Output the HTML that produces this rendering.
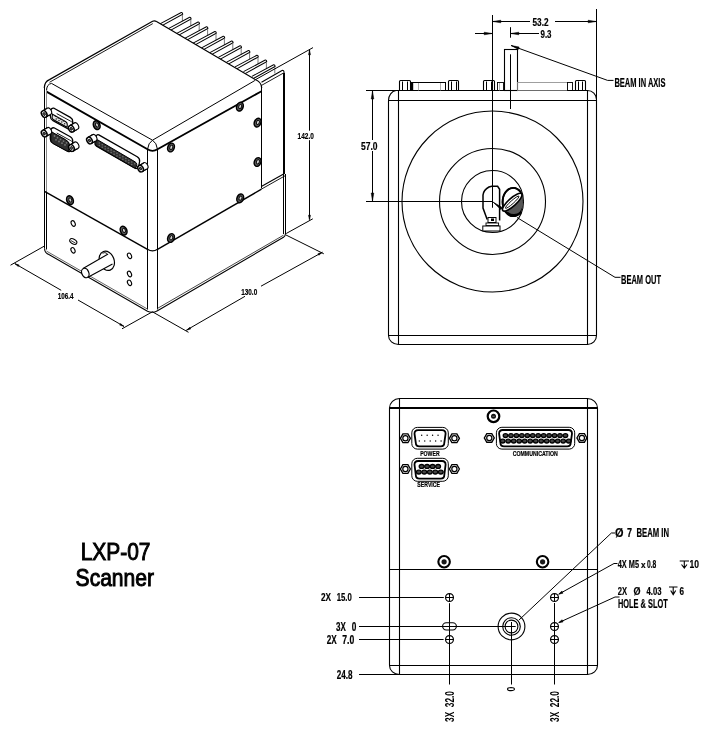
<!DOCTYPE html><html><head><meta charset="utf-8"><title>LXP-07 Scanner</title><style>html,body{margin:0;padding:0;background:#fff;}svg{display:block;will-change:transform;}text{font-family:"Liberation Sans",sans-serif;fill:#000;}</style></head><body>
<svg width="707" height="729" viewBox="0 0 707 729">
<rect width="707" height="729" fill="#fff"/>
<path d="M159.5,24.1 L181.2,12.6 Q182.5,12.3 182.7,14.2 L161.1,26.1" stroke="#000" stroke-width="1.05" fill="none" />
<line x1="182.4" y1="14.8" x2="182.4" y2="21.2" stroke="#666" stroke-width="0.9" />
<path d="M167.9,28.85 L189.6,17.35 Q190.9,17.05 191.1,18.95 L169.5,30.85" stroke="#000" stroke-width="1.05" fill="none" />
<line x1="190.8" y1="19.55" x2="190.8" y2="25.95" stroke="#666" stroke-width="0.9" />
<path d="M176.3,33.6 L198,22.1 Q199.3,21.8 199.5,23.7 L177.9,35.6" stroke="#000" stroke-width="1.05" fill="none" />
<line x1="199.2" y1="24.3" x2="199.2" y2="30.7" stroke="#666" stroke-width="0.9" />
<path d="M184.7,38.35 L206.4,26.85 Q207.7,26.55 207.9,28.45 L186.3,40.35" stroke="#000" stroke-width="1.05" fill="none" />
<line x1="207.6" y1="29.05" x2="207.6" y2="35.45" stroke="#666" stroke-width="0.9" />
<path d="M193.1,43.1 L214.8,31.6 Q216.1,31.3 216.3,33.2 L194.7,45.1" stroke="#000" stroke-width="1.05" fill="none" />
<line x1="216" y1="33.8" x2="216" y2="40.2" stroke="#666" stroke-width="0.9" />
<path d="M201.5,47.85 L223.2,36.35 Q224.5,36.05 224.7,37.95 L203.1,49.85" stroke="#000" stroke-width="1.05" fill="none" />
<line x1="224.4" y1="38.55" x2="224.4" y2="44.95" stroke="#666" stroke-width="0.9" />
<path d="M209.9,52.6 L231.6,41.1 Q232.9,40.8 233.1,42.7 L211.5,54.6" stroke="#000" stroke-width="1.05" fill="none" />
<line x1="232.8" y1="43.3" x2="232.8" y2="49.7" stroke="#666" stroke-width="0.9" />
<path d="M218.3,57.35 L240,45.85 Q241.3,45.55 241.5,47.45 L219.9,59.35" stroke="#000" stroke-width="1.05" fill="none" />
<line x1="241.2" y1="48.05" x2="241.2" y2="54.45" stroke="#666" stroke-width="0.9" />
<path d="M226.7,62.1 L248.4,50.6 Q249.7,50.3 249.9,52.2 L228.3,64.1" stroke="#000" stroke-width="1.05" fill="none" />
<line x1="249.6" y1="52.8" x2="249.6" y2="59.2" stroke="#666" stroke-width="0.9" />
<path d="M235.1,66.85 L256.8,55.35 Q258.1,55.05 258.3,56.95 L236.7,68.85" stroke="#000" stroke-width="1.05" fill="none" />
<line x1="258" y1="57.55" x2="258" y2="63.95" stroke="#666" stroke-width="0.9" />
<path d="M243.5,71.6 L265.2,60.1 Q266.5,59.8 266.7,61.7 L245.1,73.6" stroke="#000" stroke-width="1.05" fill="none" />
<line x1="266.4" y1="62.3" x2="266.4" y2="68.7" stroke="#666" stroke-width="0.9" />
<path d="M251.9,76.35 L273.6,64.85 Q274.9,64.55 275.1,66.45 L253.5,78.35" stroke="#000" stroke-width="1.05" fill="none" />
<line x1="274.8" y1="67.05" x2="274.8" y2="73.45" stroke="#666" stroke-width="0.9" />
<path d="M44.3,88 Q44.5,81.5 49.5,79.6 L152.6,21.3 Q154.5,20.3 156.5,21.6 L254.75,79.3 Q261.7,82 261.7,88" stroke="#000" stroke-width="1.2" fill="#fff" />
<line x1="49.5" y1="82.3" x2="152.8" y2="23.6" stroke="#000" stroke-width="0.9" />
<polyline points="51.5,83.4 152.5,140.2 254.75,80.6" stroke="#000" stroke-width="1" fill="none" />
<path d="M46.5,91 Q46.5,84.2 51.5,83.4" stroke="#000" stroke-width="1" fill="none" />
<path d="M147.5,149.3 Q148.3,142.8 152.5,140.2 Q156.7,142.8 157.5,149.3" stroke="#000" stroke-width="1" fill="none" />
<path d="M46.5,91.6 L147.5,149.3 Q152.5,152.6 157.5,149.3 L261.5,91.2" stroke="#000" stroke-width="1.8" fill="none" />
<line x1="44.5" y1="87" x2="44.5" y2="248.5" stroke="#000" stroke-width="1.0" />
<line x1="46.5" y1="90" x2="46.5" y2="191.5" stroke="#888" stroke-width="1.0" />
<line x1="46.5" y1="191.5" x2="46.5" y2="249.5" stroke="#000" stroke-width="1.0" />
<line x1="147.5" y1="149" x2="147.5" y2="309.5" stroke="#000" stroke-width="1.0" />
<line x1="157.5" y1="149" x2="157.5" y2="309.5" stroke="#000" stroke-width="1.0" />
<line x1="261.5" y1="87.5" x2="261.5" y2="188.5" stroke="#000" stroke-width="1.0" />
<path d="M261.5,82.2 L282,70.5 Q283.9,69.8 284,72.3 V174" stroke="#000" stroke-width="1.1" fill="none" />
<line x1="261.5" y1="85.4" x2="283" y2="73.3" stroke="#000" stroke-width="0.9" />
<line x1="284" y1="73" x2="284" y2="174" stroke="#000" stroke-width="2" />
<line x1="261.3" y1="186.6" x2="284.5" y2="173.6" stroke="#000" stroke-width="1.1" />
<line x1="261.8" y1="188.9" x2="285" y2="175.8" stroke="#000" stroke-width="0.9" />
<line x1="44.5" y1="191.4" x2="147.5" y2="249.3" stroke="#000" stroke-width="1.4" />
<path d="M147.5,249.3 Q152.5,252.6 157.5,249.3" stroke="#000" stroke-width="1.3" fill="none" />
<line x1="157.5" y1="249.3" x2="261.5" y2="189.2" stroke="#000" stroke-width="1.4" />
<line x1="283.5" y1="174" x2="283.5" y2="234" stroke="#000" stroke-width="1.0" />
<line x1="285.5" y1="174" x2="285.5" y2="234" stroke="#000" stroke-width="1.0" />
<path d="M44.5,248.5 Q44.8,253.3 49.3,254.7 L147.5,311.2 Q152.4,313.6 157.5,310.7 L283.5,237.3 Q285.5,236 285.5,233.5" stroke="#000" stroke-width="1.1" fill="none" />
<line x1="46.5" y1="251.1" x2="147.5" y2="309.1" stroke="#555" stroke-width="0.9" />
<line x1="157.5" y1="308.4" x2="283.5" y2="235.2" stroke="#333" stroke-width="0.9" />
<ellipse cx="96.7" cy="125.2" rx="3.2" ry="4.5" transform="rotate(-22 96.7 125.2)" stroke="#000" stroke-width="1.5" fill="#5a5a5a"/>
<ellipse cx="97" cy="125" rx="1.4" ry="2.2" transform="rotate(-22 97 125)" stroke="#000" stroke-width="0.9" fill="#d0d0d0"/>
<ellipse cx="70" cy="200.2" rx="3.2" ry="4.5" transform="rotate(-22 70 200.2)" stroke="#000" stroke-width="1.5" fill="#5a5a5a"/>
<ellipse cx="70.3" cy="200" rx="1.4" ry="2.2" transform="rotate(-22 70.3 200)" stroke="#000" stroke-width="0.9" fill="#d0d0d0"/>
<ellipse cx="123.6" cy="230.6" rx="3.2" ry="4.5" transform="rotate(-22 123.6 230.6)" stroke="#000" stroke-width="1.5" fill="#5a5a5a"/>
<ellipse cx="123.9" cy="230.4" rx="1.4" ry="2.2" transform="rotate(-22 123.9 230.4)" stroke="#000" stroke-width="0.9" fill="#d0d0d0"/>
<ellipse cx="239.9" cy="106.7" rx="3.2" ry="4.5" transform="rotate(22 239.9 106.7)" stroke="#000" stroke-width="1.5" fill="#5a5a5a"/>
<ellipse cx="240.2" cy="106.5" rx="1.4" ry="2.2" transform="rotate(22 240.2 106.5)" stroke="#000" stroke-width="0.9" fill="#d0d0d0"/>
<ellipse cx="257.6" cy="122.6" rx="3.2" ry="4.5" transform="rotate(22 257.6 122.6)" stroke="#000" stroke-width="1.5" fill="#5a5a5a"/>
<ellipse cx="257.9" cy="122.4" rx="1.4" ry="2.2" transform="rotate(22 257.9 122.4)" stroke="#000" stroke-width="0.9" fill="#d0d0d0"/>
<ellipse cx="171" cy="147.5" rx="3.2" ry="4.5" transform="rotate(22 171 147.5)" stroke="#000" stroke-width="1.5" fill="#5a5a5a"/>
<ellipse cx="171.3" cy="147.3" rx="1.4" ry="2.2" transform="rotate(22 171.3 147.3)" stroke="#000" stroke-width="0.9" fill="#d0d0d0"/>
<ellipse cx="257.6" cy="162" rx="3.2" ry="4.5" transform="rotate(22 257.6 162)" stroke="#000" stroke-width="1.5" fill="#5a5a5a"/>
<ellipse cx="257.9" cy="161.8" rx="1.4" ry="2.2" transform="rotate(22 257.9 161.8)" stroke="#000" stroke-width="0.9" fill="#d0d0d0"/>
<ellipse cx="240.2" cy="198.3" rx="3.2" ry="4.5" transform="rotate(22 240.2 198.3)" stroke="#000" stroke-width="1.5" fill="#5a5a5a"/>
<ellipse cx="240.5" cy="198.1" rx="1.4" ry="2.2" transform="rotate(22 240.5 198.1)" stroke="#000" stroke-width="0.9" fill="#d0d0d0"/>
<ellipse cx="171" cy="238" rx="3.2" ry="4.5" transform="rotate(22 171 238)" stroke="#000" stroke-width="1.5" fill="#5a5a5a"/>
<ellipse cx="171.3" cy="237.8" rx="1.4" ry="2.2" transform="rotate(22 171.3 237.8)" stroke="#000" stroke-width="0.9" fill="#d0d0d0"/>
<ellipse cx="73.2" cy="223.5" rx="1.9" ry="2.9" transform="rotate(-25 73.2 223.5)" stroke="#000" stroke-width="1.1" fill="none"/>
<ellipse cx="73" cy="250.3" rx="1.9" ry="2.9" transform="rotate(-25 73 250.3)" stroke="#000" stroke-width="1.1" fill="none"/>
<ellipse cx="129.5" cy="255.8" rx="1.9" ry="2.9" transform="rotate(-25 129.5 255.8)" stroke="#000" stroke-width="1.1" fill="none"/>
<ellipse cx="129.5" cy="274" rx="1.9" ry="2.9" transform="rotate(-25 129.5 274)" stroke="#000" stroke-width="1.1" fill="none"/>
<ellipse cx="129.5" cy="282.8" rx="1.9" ry="2.9" transform="rotate(-25 129.5 282.8)" stroke="#000" stroke-width="1.1" fill="none"/>
<ellipse cx="73.3" cy="241.5" rx="3.9" ry="2.3" transform="rotate(32 73.3 241.5)" stroke="#000" stroke-width="1.1" fill="#fff"/>
<line x1="71" y1="240.6" x2="75.6" y2="243.2" stroke="#000" stroke-width="0.8" />
<ellipse cx="106.8" cy="260.8" rx="7.3" ry="9.9" transform="rotate(-20 106.8 260.8)" stroke="#000" stroke-width="1.2" fill="#fff"/>
<path d="M102.5,253.2 Q105,251.8 107,253.5" stroke="#000" stroke-width="0.9" fill="none" />
<path d="M83,268.6 L108.1,254 L112.5,264.1 L88.4,276.9 Z" fill="#fff" stroke="none"/>
<path d="M83,268.6 L108.1,254 M88.4,276.9 L112.5,264.1" stroke="#000" stroke-width="1.1" fill="none" />
<ellipse cx="85.3" cy="273" rx="3.5" ry="4.9" transform="rotate(-22 85.3 273)" stroke="#000" stroke-width="1.2" fill="#fff"/>
<path d="M54,108.2 L70.3,117.4 Q72.9,119 72.7,121.5 L72.5,125 Q71.8,129.5 68.5,129.2 L53,120.6 Q50.4,119.2 50.4,116.5 L50.5,111.5 Q51,107.6 54,108.2 Z" stroke="#000" stroke-width="1.3" fill="#fff" />
<path d="M56.7,113.6 L70.3,121 Q72,122 72.5,122.5" stroke="#000" stroke-width="0.9" fill="none" />
<path d="M52.5,114.2 L65.8,121.8 Q67.5,123 67.3,125 L67,127.3 L53.6,119.7 Q52,118.8 52.1,117.2 Z" stroke="#000" stroke-width="1.1" fill="#e6e6e6" />
<circle cx="55.5" cy="116.3" r="0.75" stroke="#000" stroke-width="0" fill="#222"/>
<circle cx="58.2" cy="117.9" r="0.75" stroke="#000" stroke-width="0" fill="#222"/>
<circle cx="61" cy="119.4" r="0.75" stroke="#000" stroke-width="0" fill="#222"/>
<circle cx="63.8" cy="121" r="0.75" stroke="#000" stroke-width="0" fill="#222"/>
<circle cx="56.2" cy="118.9" r="0.75" stroke="#000" stroke-width="0" fill="#222"/>
<circle cx="59" cy="120.5" r="0.75" stroke="#000" stroke-width="0" fill="#222"/>
<circle cx="61.8" cy="122.1" r="0.75" stroke="#000" stroke-width="0" fill="#222"/>
<circle cx="64.6" cy="123.7" r="0.75" stroke="#000" stroke-width="0" fill="#222"/>
<ellipse cx="48.6" cy="111.5" rx="2.8" ry="3.6" transform="rotate(-28 48.6 111.5)" stroke="#000" stroke-width="1.1" fill="#fff"/>
<polyline points="43,110.8 47.4,108.3" stroke="#000" stroke-width="1.1" fill="none" />
<polyline points="45.4,117.2 49.8,114.7" stroke="#000" stroke-width="1.1" fill="none" />
<polygon points="43,110.8 47.4,108.3 49.8,114.7 45.4,117.2" fill="#fff"/>
<polyline points="43,110.8 47.4,108.3" stroke="#000" stroke-width="1.1" fill="none" />
<polyline points="45.4,117.2 49.8,114.7" stroke="#000" stroke-width="1.1" fill="none" />
<ellipse cx="44.2" cy="114" rx="2.6" ry="3.5" transform="rotate(-28 44.2 114)" stroke="#000" stroke-width="1.5" fill="#fff"/>
<ellipse cx="44.2" cy="114" rx="1.1" ry="1.5" transform="rotate(-28 44.2 114)" stroke="#000" stroke-width="0.8" fill="#555"/>
<ellipse cx="75.7" cy="126.2" rx="2.8" ry="3.6" transform="rotate(-28 75.7 126.2)" stroke="#000" stroke-width="1.1" fill="#fff"/>
<polyline points="70.1,125.5 74.5,123" stroke="#000" stroke-width="1.1" fill="none" />
<polyline points="72.5,131.9 76.9,129.4" stroke="#000" stroke-width="1.1" fill="none" />
<polygon points="70.1,125.5 74.5,123 76.9,129.4 72.5,131.9" fill="#fff"/>
<polyline points="70.1,125.5 74.5,123" stroke="#000" stroke-width="1.1" fill="none" />
<polyline points="72.5,131.9 76.9,129.4" stroke="#000" stroke-width="1.1" fill="none" />
<ellipse cx="71.3" cy="128.7" rx="2.6" ry="3.5" transform="rotate(-28 71.3 128.7)" stroke="#000" stroke-width="1.5" fill="#fff"/>
<ellipse cx="71.3" cy="128.7" rx="1.1" ry="1.5" transform="rotate(-28 71.3 128.7)" stroke="#000" stroke-width="0.8" fill="#555"/>
<path d="M54,127.8 L70.3,136.7 Q72.9,138.3 72.7,141 L72.5,146 Q71.5,152.8 68,151.3 L53,143.3 Q50.4,141.8 50.3,139 L50.3,131.5 Q51,127.2 54,127.8 Z" stroke="#000" stroke-width="1.3" fill="#fff" />
<path d="M56.7,133 L70.3,140.4 Q72,141.4 72.5,142" stroke="#000" stroke-width="0.9" fill="none" />
<path d="M51.5,131.8 L65.5,139.6 Q69.6,141.8 69.5,145 L69.2,150 Q68.7,152 66.5,150.8 L53,143.5 Q50.8,142.2 50.8,139.5 L50.8,133.5 Q50.9,131.5 51.5,131.8 Z" stroke="#000" stroke-width="1.0" fill="#303030" />
<circle cx="54.5" cy="136" r="0.9" stroke="#000" stroke-width="0" fill="#777"/>
<circle cx="57.5" cy="137.7" r="0.9" stroke="#000" stroke-width="0" fill="#777"/>
<circle cx="60.5" cy="139.4" r="0.9" stroke="#000" stroke-width="0" fill="#777"/>
<circle cx="63.5" cy="141.1" r="0.9" stroke="#000" stroke-width="0" fill="#777"/>
<circle cx="66.5" cy="142.8" r="0.9" stroke="#000" stroke-width="0" fill="#777"/>
<circle cx="56" cy="139.8" r="0.9" stroke="#000" stroke-width="0" fill="#777"/>
<circle cx="59" cy="141.5" r="0.9" stroke="#000" stroke-width="0" fill="#777"/>
<circle cx="62" cy="143.2" r="0.9" stroke="#000" stroke-width="0" fill="#777"/>
<circle cx="65" cy="144.9" r="0.9" stroke="#000" stroke-width="0" fill="#777"/>
<ellipse cx="48.6" cy="131" rx="2.8" ry="3.6" transform="rotate(-28 48.6 131)" stroke="#000" stroke-width="1.1" fill="#fff"/>
<polyline points="43,130.3 47.4,127.8" stroke="#000" stroke-width="1.1" fill="none" />
<polyline points="45.4,136.7 49.8,134.2" stroke="#000" stroke-width="1.1" fill="none" />
<polygon points="43,130.3 47.4,127.8 49.8,134.2 45.4,136.7" fill="#fff"/>
<polyline points="43,130.3 47.4,127.8" stroke="#000" stroke-width="1.1" fill="none" />
<polyline points="45.4,136.7 49.8,134.2" stroke="#000" stroke-width="1.1" fill="none" />
<ellipse cx="44.2" cy="133.5" rx="2.6" ry="3.5" transform="rotate(-28 44.2 133.5)" stroke="#000" stroke-width="1.5" fill="#fff"/>
<ellipse cx="44.2" cy="133.5" rx="1.1" ry="1.5" transform="rotate(-28 44.2 133.5)" stroke="#000" stroke-width="0.8" fill="#555"/>
<ellipse cx="75.9" cy="145.5" rx="2.8" ry="3.6" transform="rotate(-28 75.9 145.5)" stroke="#000" stroke-width="1.1" fill="#fff"/>
<polyline points="70.3,144.8 74.7,142.3" stroke="#000" stroke-width="1.1" fill="none" />
<polyline points="72.7,151.2 77.1,148.7" stroke="#000" stroke-width="1.1" fill="none" />
<polygon points="70.3,144.8 74.7,142.3 77.1,148.7 72.7,151.2" fill="#fff"/>
<polyline points="70.3,144.8 74.7,142.3" stroke="#000" stroke-width="1.1" fill="none" />
<polyline points="72.7,151.2 77.1,148.7" stroke="#000" stroke-width="1.1" fill="none" />
<ellipse cx="71.5" cy="148" rx="2.6" ry="3.5" transform="rotate(-28 71.5 148)" stroke="#000" stroke-width="1.5" fill="#fff"/>
<ellipse cx="71.5" cy="148" rx="1.1" ry="1.5" transform="rotate(-28 71.5 148)" stroke="#000" stroke-width="0.8" fill="#555"/>
<path d="M98.8,134.9 L137.2,156.8 Q140,158.5 139.6,161.5 L138.8,165.8 Q137.5,169.6 134.5,168 L96.5,146.2 Q94.6,145 94.9,142.5 L95.9,137.6 Q96.6,133.8 98.8,134.9 Z" stroke="#000" stroke-width="1.3" fill="#fff" />
<path d="M97.9,140 L135,161.8 Q137,163 136.8,164.5 L136.3,166.8 Q135.8,168.8 133.8,167.6 L97,146.2 Q95.3,145.2 95.6,143.5 L96,141.3 Q96.4,139.2 97.9,140 Z" stroke="#000" stroke-width="1.0" fill="#303030" />
<circle cx="99.3" cy="143" r="0.75" stroke="#000" stroke-width="0" fill="#777"/>
<circle cx="102.25" cy="144.72" r="0.75" stroke="#000" stroke-width="0" fill="#777"/>
<circle cx="105.2" cy="146.44" r="0.75" stroke="#000" stroke-width="0" fill="#777"/>
<circle cx="108.15" cy="148.16" r="0.75" stroke="#000" stroke-width="0" fill="#777"/>
<circle cx="111.1" cy="149.88" r="0.75" stroke="#000" stroke-width="0" fill="#777"/>
<circle cx="114.05" cy="151.6" r="0.75" stroke="#000" stroke-width="0" fill="#777"/>
<circle cx="117" cy="153.32" r="0.75" stroke="#000" stroke-width="0" fill="#777"/>
<circle cx="119.95" cy="155.04" r="0.75" stroke="#000" stroke-width="0" fill="#777"/>
<circle cx="122.9" cy="156.76" r="0.75" stroke="#000" stroke-width="0" fill="#777"/>
<circle cx="125.85" cy="158.48" r="0.75" stroke="#000" stroke-width="0" fill="#777"/>
<circle cx="128.8" cy="160.2" r="0.75" stroke="#000" stroke-width="0" fill="#777"/>
<circle cx="131.75" cy="161.92" r="0.75" stroke="#000" stroke-width="0" fill="#777"/>
<circle cx="134.7" cy="163.64" r="0.75" stroke="#000" stroke-width="0" fill="#777"/>
<circle cx="99.3" cy="145.6" r="0.75" stroke="#000" stroke-width="0" fill="#777"/>
<circle cx="102.25" cy="147.32" r="0.75" stroke="#000" stroke-width="0" fill="#777"/>
<circle cx="105.2" cy="149.04" r="0.75" stroke="#000" stroke-width="0" fill="#777"/>
<circle cx="108.15" cy="150.76" r="0.75" stroke="#000" stroke-width="0" fill="#777"/>
<circle cx="111.1" cy="152.48" r="0.75" stroke="#000" stroke-width="0" fill="#777"/>
<circle cx="114.05" cy="154.2" r="0.75" stroke="#000" stroke-width="0" fill="#777"/>
<circle cx="117" cy="155.92" r="0.75" stroke="#000" stroke-width="0" fill="#777"/>
<circle cx="119.95" cy="157.64" r="0.75" stroke="#000" stroke-width="0" fill="#777"/>
<circle cx="122.9" cy="159.36" r="0.75" stroke="#000" stroke-width="0" fill="#777"/>
<circle cx="125.85" cy="161.08" r="0.75" stroke="#000" stroke-width="0" fill="#777"/>
<circle cx="128.8" cy="162.8" r="0.75" stroke="#000" stroke-width="0" fill="#777"/>
<circle cx="131.75" cy="164.52" r="0.75" stroke="#000" stroke-width="0" fill="#777"/>
<ellipse cx="93.9" cy="138" rx="2.8" ry="3.6" transform="rotate(-28 93.9 138)" stroke="#000" stroke-width="1.1" fill="#fff"/>
<polyline points="88.3,137.3 92.7,134.8" stroke="#000" stroke-width="1.1" fill="none" />
<polyline points="90.7,143.7 95.1,141.2" stroke="#000" stroke-width="1.1" fill="none" />
<polygon points="88.3,137.3 92.7,134.8 95.1,141.2 90.7,143.7" fill="#fff"/>
<polyline points="88.3,137.3 92.7,134.8" stroke="#000" stroke-width="1.1" fill="none" />
<polyline points="90.7,143.7 95.1,141.2" stroke="#000" stroke-width="1.1" fill="none" />
<ellipse cx="89.5" cy="140.5" rx="2.6" ry="3.5" transform="rotate(-28 89.5 140.5)" stroke="#000" stroke-width="1.5" fill="#fff"/>
<ellipse cx="89.5" cy="140.5" rx="1.1" ry="1.5" transform="rotate(-28 89.5 140.5)" stroke="#000" stroke-width="0.8" fill="#555"/>
<ellipse cx="145" cy="166.1" rx="2.8" ry="3.6" transform="rotate(-28 145 166.1)" stroke="#000" stroke-width="1.1" fill="#fff"/>
<polyline points="139.4,165.4 143.8,162.9" stroke="#000" stroke-width="1.1" fill="none" />
<polyline points="141.8,171.8 146.2,169.3" stroke="#000" stroke-width="1.1" fill="none" />
<polygon points="139.4,165.4 143.8,162.9 146.2,169.3 141.8,171.8" fill="#fff"/>
<polyline points="139.4,165.4 143.8,162.9" stroke="#000" stroke-width="1.1" fill="none" />
<polyline points="141.8,171.8 146.2,169.3" stroke="#000" stroke-width="1.1" fill="none" />
<ellipse cx="140.6" cy="168.6" rx="2.6" ry="3.5" transform="rotate(-28 140.6 168.6)" stroke="#000" stroke-width="1.5" fill="#fff"/>
<ellipse cx="140.6" cy="168.6" rx="1.1" ry="1.5" transform="rotate(-28 140.6 168.6)" stroke="#000" stroke-width="0.8" fill="#555"/>
<line x1="254.5" y1="80.2" x2="313" y2="47.6" stroke="#000" stroke-width="1" />
<line x1="286.2" y1="233.5" x2="312.8" y2="218.8" stroke="#000" stroke-width="1" />
<line x1="309.5" y1="49.5" x2="309.5" y2="130.7" stroke="#000" stroke-width="1" />
<line x1="309.5" y1="140.2" x2="309.5" y2="219" stroke="#000" stroke-width="1" />
<polygon points="309.5,49.8 310.5,54.8 308.5,54.8" stroke="#000" stroke-width="0.5" fill="#000" />
<polygon points="309.5,220.2 308.5,215.2 310.5,215.2" stroke="#000" stroke-width="0.5" fill="#000" />
<text x="297.6" y="139.2" font-family="Liberation Sans" font-size="9.71" font-weight="bold" textLength="16.2" lengthAdjust="spacingAndGlyphs" stroke="#000" stroke-width="0.2">142.0</text>
<line x1="44.5" y1="246" x2="10.5" y2="265.2" stroke="#000" stroke-width="1" />
<line x1="152.4" y1="311.8" x2="122" y2="328.8" stroke="#000" stroke-width="1" />
<line x1="14.8" y1="263.6" x2="61.2" y2="290.3" stroke="#000" stroke-width="1" />
<line x1="78" y1="300" x2="124" y2="326.4" stroke="#000" stroke-width="1" />
<polygon points="14.8,263.6 19.16,265.02 18.28,266.59" stroke="#000" stroke-width="0.5" fill="#000" />
<polygon points="124,326.5 119.64,325.08 120.52,323.51" stroke="#000" stroke-width="0.5" fill="#000" />
<text x="57.7" y="299.2" font-family="Liberation Sans" font-size="9.57" font-weight="bold" textLength="15.8" lengthAdjust="spacingAndGlyphs" stroke="#000" stroke-width="0.2">106.4</text>
<line x1="152.4" y1="311.8" x2="188.5" y2="332.3" stroke="#000" stroke-width="1" />
<line x1="286" y1="235" x2="323.8" y2="253.8" stroke="#000" stroke-width="1" />
<line x1="186.4" y1="330.2" x2="245" y2="296.3" stroke="#000" stroke-width="1" />
<line x1="261" y1="286.2" x2="322.3" y2="252.3" stroke="#000" stroke-width="1" />
<polygon points="186.4,330.3 189.88,327.31 190.76,328.88" stroke="#000" stroke-width="0.5" fill="#000" />
<polygon points="322.3,252.3 318.82,255.29 317.94,253.72" stroke="#000" stroke-width="0.5" fill="#000" />
<text x="241.2" y="295.2" font-family="Liberation Sans" font-size="9.28" font-weight="bold" textLength="16" lengthAdjust="spacingAndGlyphs" stroke="#000" stroke-width="0.2">130.0</text>
<path d="M396,90.5 H587.5 A9,9 0 0 1 596.5,99.5 V335.5 A9,9 0 0 1 587.5,344.5 H398.5 A10,9 0 0 1 388.5,335.5 V100.5 A8.5,10 0 0 1 396,90.5 Z" stroke="#000" stroke-width="1.1" fill="none" />
<line x1="398.5" y1="90.5" x2="398.5" y2="344.5" stroke="#000" stroke-width="1.1" />
<line x1="587.5" y1="90.5" x2="587.5" y2="344.5" stroke="#000" stroke-width="1.1" />
<line x1="388.5" y1="100.5" x2="596.5" y2="100.5" stroke="#000" stroke-width="1.1" />
<line x1="388.5" y1="335.5" x2="596.5" y2="335.5" stroke="#000" stroke-width="1.1" />
<circle cx="492.5" cy="201.5" r="90.5" stroke="#000" stroke-width="1.1" fill="none"/>
<circle cx="492.5" cy="201.5" r="53" stroke="#000" stroke-width="1.1" fill="none"/>
<circle cx="492.5" cy="201.5" r="31" stroke="#000" stroke-width="1.1" fill="none"/>
<line x1="492.5" y1="15" x2="492.5" y2="207.5" stroke="#000" stroke-width="1" />
<line x1="366" y1="201.5" x2="493" y2="201.5" stroke="#000" stroke-width="1" />
<line x1="366" y1="90.5" x2="398.5" y2="90.5" stroke="#000" stroke-width="1" />
<line x1="372.5" y1="90.5" x2="372.5" y2="140" stroke="#000" stroke-width="1" />
<line x1="372.5" y1="151" x2="372.5" y2="201.5" stroke="#000" stroke-width="1" />
<polygon points="372.5,91 373.8,99 371.2,99" stroke="#000" stroke-width="0.5" fill="#000" />
<polygon points="372.5,201 371.2,193 373.8,193" stroke="#000" stroke-width="0.5" fill="#000" />
<text x="361" y="149.6" font-family="Liberation Sans" font-size="11.01" font-weight="bold" textLength="16.5" lengthAdjust="spacingAndGlyphs" stroke="#000" stroke-width="0.2">57.0</text>
<line x1="596.5" y1="9" x2="596.5" y2="100" stroke="#000" stroke-width="1" />
<line x1="492.5" y1="21.5" x2="530" y2="21.5" stroke="#000" stroke-width="1" />
<line x1="555" y1="21.5" x2="596.5" y2="21.5" stroke="#000" stroke-width="1" />
<polygon points="492.8,21.5 500.8,20.2 500.8,22.8" stroke="#000" stroke-width="0.5" fill="#000" />
<polygon points="596.2,21.5 588.2,22.8 588.2,20.2" stroke="#000" stroke-width="0.5" fill="#000" />
<text x="532.5" y="26" font-family="Liberation Sans" font-size="10.14" font-weight="bold" textLength="16" lengthAdjust="spacingAndGlyphs" stroke="#000" stroke-width="0.2">53.2</text>
<line x1="475" y1="33.5" x2="492" y2="33.5" stroke="#000" stroke-width="1" />
<polygon points="492.2,33.5 484.2,34.8 484.2,32.2" stroke="#000" stroke-width="0.5" fill="#000" />
<line x1="510.5" y1="27.2" x2="510.5" y2="37.7" stroke="#000" stroke-width="1" />
<line x1="510.5" y1="33.5" x2="539" y2="33.5" stroke="#000" stroke-width="1" />
<polygon points="510.8,33.5 518.8,32.2 518.8,34.8" stroke="#000" stroke-width="0.5" fill="#000" />
<text x="540.5" y="37.5" font-family="Liberation Sans" font-size="10.43" font-weight="bold" textLength="11" lengthAdjust="spacingAndGlyphs" stroke="#000" stroke-width="0.2">9.3</text>
<rect x="504.5" y="49.5" width="13" height="41" fill="#fff" stroke="#000" stroke-width="1.1"/>
<line x1="510.5" y1="54.3" x2="510.5" y2="109" stroke="#000" stroke-width="1" />
<polyline points="511,45.5 607.6,80.4 613.5,80.4" stroke="#000" stroke-width="1" fill="none" />
<polygon points="511.2,45.5 519.17,47 518.28,49.44" stroke="#000" stroke-width="0.5" fill="#000" />
<text x="614.4" y="87" font-family="Liberation Sans" font-size="12.75" font-weight="bold" textLength="51" lengthAdjust="spacingAndGlyphs" stroke="#000" stroke-width="0.2">BEAM IN AXIS</text>
<path d="M399.5,90.5 V81.5 Q399.5,80.5 400.5,80.5 H409.5 Q410.5,80.5 410.5,81.5 V90.5" stroke="#000" stroke-width="1.1" fill="none" />
<line x1="402.5" y1="81.5" x2="402.5" y2="90.5" stroke="#000" stroke-width="1" />
<line x1="407.5" y1="81.5" x2="407.5" y2="90.5" stroke="#000" stroke-width="1" />
<rect x="411.5" y="82.5" width="34" height="8" fill="none" stroke="#000" stroke-width="1"/>
<line x1="412.5" y1="83" x2="412.5" y2="90.5" stroke="#000" stroke-width="1.4" />
<line x1="418.5" y1="83" x2="418.5" y2="90.5" stroke="#999" stroke-width="0.8" />
<line x1="440.5" y1="83" x2="440.5" y2="90.5" stroke="#999" stroke-width="0.8" />
<path d="M448.5,90.5 V81.5 Q448.5,80.5 449.5,80.5 H457.5 Q458.5,80.5 458.5,81.5 V90.5" stroke="#000" stroke-width="1.1" fill="none" />
<line x1="451.5" y1="81.5" x2="451.5" y2="90.5" stroke="#000" stroke-width="1" />
<line x1="456.5" y1="81.5" x2="456.5" y2="90.5" stroke="#000" stroke-width="1" />
<path d="M483.5,90.5 V81.5 Q483.5,80.5 484.5,80.5 H493.5 Q494.5,80.5 494.5,81.5 V90.5" stroke="#000" stroke-width="1.1" fill="none" />
<line x1="486.5" y1="81.5" x2="486.5" y2="90.5" stroke="#000" stroke-width="1" />
<line x1="491.5" y1="81.5" x2="491.5" y2="90.5" stroke="#000" stroke-width="1" />
<rect x="497.5" y="82.5" width="6" height="8" fill="none" stroke="#000" stroke-width="0.9"/>
<line x1="499.5" y1="83" x2="499.5" y2="90.5" stroke="#999" stroke-width="0.8" />
<rect x="517.5" y="82.5" width="50" height="8" fill="none" stroke="#888" stroke-width="0.8"/>
<rect x="567.5" y="82.5" width="5" height="8" fill="none" stroke="#000" stroke-width="0.9"/>
<path d="M575.5,90.5 V81.5 Q575.5,80.5 576.5,80.5 H584.5 Q585.5,80.5 585.5,81.5 V90.5" stroke="#000" stroke-width="1.1" fill="none" />
<line x1="578.5" y1="81.5" x2="578.5" y2="90.5" stroke="#000" stroke-width="1" />
<line x1="582.5" y1="81.5" x2="582.5" y2="90.5" stroke="#000" stroke-width="1" />
<path d="M487.2,219.5 L483,208 V195 Q483.5,190 489,187 L491.7,186.3 H497.6 L499.6,189.3 V220.5" stroke="#000" stroke-width="1.5" fill="none" />
<rect x="488" y="217.5" width="8" height="5" fill="#fff" stroke="#000" stroke-width="1"/>
<rect x="491" y="218.5" width="3" height="2.5" fill="#000"/>
<rect x="486" y="223" width="12.6" height="2.6" fill="#fff" stroke="#000" stroke-width="0.9"/>
<rect x="482.8" y="226" width="17.2" height="5" fill="#fff" stroke="#000" stroke-width="1"/>
<line x1="492.5" y1="201.5" x2="492.5" y2="207.5" stroke="#000" stroke-width="1" />
<polygon points="493.2,202.2 502,207.5 501,209.5" stroke="#000" stroke-width="0.8" fill="#000" />
<clipPath id="gclip"><circle cx="492.5" cy="201.5" r="30.6"/></clipPath>
<clipPath id="gclip2"><ellipse cx="513.2" cy="202" rx="10.6" ry="14.2"/></clipPath>
<g clip-path="url(#gclip)">
<ellipse cx="513.2" cy="202" rx="10.6" ry="14.2" transform="rotate(0 513.2 202)" stroke="#000" stroke-width="1.8" fill="#fff"/>
<g clip-path="url(#gclip2)"><polygon points="497.3,215.6 527.1,188.8 536,232 497,232" fill="#555"/></g>
<ellipse cx="513.2" cy="202" rx="10.6" ry="14.2" transform="rotate(0 513.2 202)" stroke="#000" stroke-width="1.8" fill="none"/>
</g>
<ellipse cx="512.2" cy="202.2" rx="12.6" ry="3.9" transform="rotate(-42 512.2 202.2)" stroke="#000" stroke-width="1.6" fill="#fff"/>
<ellipse cx="512.2" cy="202.2" rx="9" ry="1.5" transform="rotate(-42 512.2 202.2)" stroke="#000" stroke-width="0.9" fill="#fff"/>
<path d="M507,212.5 Q514,218 521,212.5" stroke="#000" stroke-width="2.2" fill="none" />
<polyline points="517,217.5 615,277.3 620.6,277.3" stroke="#000" stroke-width="1" fill="none" />
<text x="621" y="284" font-family="Liberation Sans" font-size="13.04" font-weight="bold" textLength="40" lengthAdjust="spacingAndGlyphs" stroke="#000" stroke-width="0.2">BEAM OUT</text>
<path d="M399.5,398.5 H587.5 A10,9.5 0 0 1 597.5,408 V665.5 A10,9 0 0 1 587.5,674.5 H399.5 A10,9 0 0 1 389.5,665.5 V408 A10,9.5 0 0 1 399.5,398.5 Z" stroke="#000" stroke-width="1.1" fill="none" />
<line x1="399.5" y1="398.5" x2="399.5" y2="674.5" stroke="#000" stroke-width="1.1" />
<line x1="587.5" y1="398.5" x2="587.5" y2="674.5" stroke="#000" stroke-width="1.1" />
<line x1="389.5" y1="408" x2="597.5" y2="408" stroke="#000" stroke-width="2" />
<line x1="389.5" y1="665.5" x2="597.5" y2="665.5" stroke="#000" stroke-width="1.1" />
<line x1="389.5" y1="569.5" x2="597.5" y2="569.5" stroke="#000" stroke-width="1.1" />
<circle cx="493.5" cy="416.3" r="5.8" stroke="#000" stroke-width="2.2" fill="none"/>
<circle cx="493.5" cy="416.3" r="2.5" stroke="#000" stroke-width="0" fill="#111"/>
<line x1="492.3" y1="416.3" x2="494.7" y2="416.3" stroke="#999" stroke-width="0.7" />
<circle cx="444.1" cy="561.8" r="5.75" stroke="#000" stroke-width="2.1" fill="none"/>
<circle cx="444.1" cy="561.8" r="2.6" stroke="#000" stroke-width="0" fill="#1a1a1a"/>
<circle cx="542.6" cy="561.8" r="5.75" stroke="#000" stroke-width="2.1" fill="none"/>
<circle cx="542.6" cy="561.8" r="2.6" stroke="#000" stroke-width="0" fill="#1a1a1a"/>
<polygon points="410.4,438.3 407.9,442.63 402.9,442.63 400.4,438.3 402.9,433.97 407.9,433.97" stroke="#000" stroke-width="1.3" fill="#fff" />
<circle cx="405.4" cy="438.3" r="2.6" stroke="#000" stroke-width="1.2" fill="none"/>
<polygon points="459.4,438.3 456.9,442.63 451.9,442.63 449.4,438.3 451.9,433.97 456.9,433.97" stroke="#000" stroke-width="1.3" fill="#fff" />
<circle cx="454.4" cy="438.3" r="2.6" stroke="#000" stroke-width="1.2" fill="none"/>
<rect x="411.8" y="427.4" width="36.5" height="21.7" rx="5.5" fill="#fff" stroke="#000" stroke-width="1.0"/>
<path d="M418.1,430.1 H442 Q445.6,430.1 445.6,433.7 L444.3,442.8 Q444.3,446.4 440.7,446.4 H419.4 Q415.8,446.4 415.8,442.8 L414.5,433.7 Q414.5,430.1 418.1,430.1 Z" stroke="#000" stroke-width="1.8" fill="none" />
<circle cx="421.7" cy="435.3" r="0.7" stroke="#000" stroke-width="0" fill="#000"/>
<circle cx="427.15" cy="435.3" r="0.7" stroke="#000" stroke-width="0" fill="#000"/>
<circle cx="432.6" cy="435.3" r="0.7" stroke="#000" stroke-width="0" fill="#000"/>
<circle cx="438.05" cy="435.3" r="0.7" stroke="#000" stroke-width="0" fill="#000"/>
<circle cx="419.3" cy="441" r="0.7" stroke="#000" stroke-width="0" fill="#000"/>
<circle cx="424.75" cy="441" r="0.7" stroke="#000" stroke-width="0" fill="#000"/>
<circle cx="430.2" cy="441" r="0.7" stroke="#000" stroke-width="0" fill="#000"/>
<circle cx="435.65" cy="441" r="0.7" stroke="#000" stroke-width="0" fill="#000"/>
<circle cx="441.1" cy="441" r="0.7" stroke="#000" stroke-width="0" fill="#000"/>
<polygon points="410.4,469 407.9,473.33 402.9,473.33 400.4,469 402.9,464.67 407.9,464.67" stroke="#000" stroke-width="1.3" fill="#fff" />
<circle cx="405.4" cy="469" r="2.6" stroke="#000" stroke-width="1.2" fill="none"/>
<polygon points="459.4,469 456.9,473.33 451.9,473.33 449.4,469 451.9,464.67 456.9,464.67" stroke="#000" stroke-width="1.3" fill="#fff" />
<circle cx="454.4" cy="469" r="2.6" stroke="#000" stroke-width="1.2" fill="none"/>
<rect x="411.8" y="458.3" width="36.5" height="23" rx="5.5" fill="#fff" stroke="#000" stroke-width="1.0"/>
<path d="M418.1,461 H442 Q445.6,461 445.6,464.6 L444.3,475 Q444.3,478.6 440.7,478.6 H419.4 Q415.8,478.6 415.8,475 L414.5,464.6 Q414.5,461 418.1,461 Z" stroke="#000" stroke-width="1.8" fill="none" />
<ellipse cx="421.6" cy="466.4" rx="2.4" ry="1.9" transform="rotate(0 421.6 466.4)" stroke="#000" stroke-width="1.3" fill="#444"/>
<ellipse cx="427.1" cy="466.4" rx="2.4" ry="1.9" transform="rotate(0 427.1 466.4)" stroke="#000" stroke-width="1.3" fill="#444"/>
<ellipse cx="432.6" cy="466.4" rx="2.4" ry="1.9" transform="rotate(0 432.6 466.4)" stroke="#000" stroke-width="1.3" fill="#444"/>
<ellipse cx="438.1" cy="466.4" rx="2.4" ry="1.9" transform="rotate(0 438.1 466.4)" stroke="#000" stroke-width="1.3" fill="#444"/>
<ellipse cx="418.8" cy="472.1" rx="2.4" ry="1.9" transform="rotate(0 418.8 472.1)" stroke="#000" stroke-width="1.3" fill="#444"/>
<ellipse cx="424.3" cy="472.1" rx="2.4" ry="1.9" transform="rotate(0 424.3 472.1)" stroke="#000" stroke-width="1.3" fill="#444"/>
<ellipse cx="429.8" cy="472.1" rx="2.4" ry="1.9" transform="rotate(0 429.8 472.1)" stroke="#000" stroke-width="1.3" fill="#444"/>
<ellipse cx="435.3" cy="472.1" rx="2.4" ry="1.9" transform="rotate(0 435.3 472.1)" stroke="#000" stroke-width="1.3" fill="#444"/>
<ellipse cx="440.8" cy="472.1" rx="2.4" ry="1.9" transform="rotate(0 440.8 472.1)" stroke="#000" stroke-width="1.3" fill="#444"/>
<polygon points="494.3,437.9 491.8,442.23 486.8,442.23 484.3,437.9 486.8,433.57 491.8,433.57" stroke="#000" stroke-width="1.3" fill="#fff" />
<circle cx="489.3" cy="437.9" r="2.6" stroke="#000" stroke-width="1.2" fill="none"/>
<polygon points="586.9,437.9 584.4,442.23 579.4,442.23 576.9,437.9 579.4,433.57 584.4,433.57" stroke="#000" stroke-width="1.3" fill="#fff" />
<circle cx="581.9" cy="437.9" r="2.6" stroke="#000" stroke-width="1.2" fill="none"/>
<rect x="496.4" y="427.3" width="78.3" height="21.8" rx="5.5" fill="#fff" stroke="#000" stroke-width="1.0"/>
<path d="M502.7,430 H568.4 Q572,430 572,433.6 L570.7,442.8 Q570.7,446.4 567.1,446.4 H504 Q500.4,446.4 500.4,442.8 L499.1,433.6 Q499.1,430 502.7,430 Z" stroke="#000" stroke-width="1.8" fill="none" />
<ellipse cx="505.5" cy="435.6" rx="2.3" ry="1.9" transform="rotate(0 505.5 435.6)" stroke="#000" stroke-width="1.3" fill="#444"/>
<ellipse cx="510.95" cy="435.6" rx="2.3" ry="1.9" transform="rotate(0 510.95 435.6)" stroke="#000" stroke-width="1.3" fill="#444"/>
<ellipse cx="516.4" cy="435.6" rx="2.3" ry="1.9" transform="rotate(0 516.4 435.6)" stroke="#000" stroke-width="1.3" fill="#444"/>
<ellipse cx="521.85" cy="435.6" rx="2.3" ry="1.9" transform="rotate(0 521.85 435.6)" stroke="#000" stroke-width="1.3" fill="#444"/>
<ellipse cx="527.3" cy="435.6" rx="2.3" ry="1.9" transform="rotate(0 527.3 435.6)" stroke="#000" stroke-width="1.3" fill="#444"/>
<ellipse cx="532.75" cy="435.6" rx="2.3" ry="1.9" transform="rotate(0 532.75 435.6)" stroke="#000" stroke-width="1.3" fill="#444"/>
<ellipse cx="538.2" cy="435.6" rx="2.3" ry="1.9" transform="rotate(0 538.2 435.6)" stroke="#000" stroke-width="1.3" fill="#444"/>
<ellipse cx="543.65" cy="435.6" rx="2.3" ry="1.9" transform="rotate(0 543.65 435.6)" stroke="#000" stroke-width="1.3" fill="#444"/>
<ellipse cx="549.1" cy="435.6" rx="2.3" ry="1.9" transform="rotate(0 549.1 435.6)" stroke="#000" stroke-width="1.3" fill="#444"/>
<ellipse cx="554.55" cy="435.6" rx="2.3" ry="1.9" transform="rotate(0 554.55 435.6)" stroke="#000" stroke-width="1.3" fill="#444"/>
<ellipse cx="560" cy="435.6" rx="2.3" ry="1.9" transform="rotate(0 560 435.6)" stroke="#000" stroke-width="1.3" fill="#444"/>
<ellipse cx="565.45" cy="435.6" rx="2.3" ry="1.9" transform="rotate(0 565.45 435.6)" stroke="#000" stroke-width="1.3" fill="#444"/>
<ellipse cx="502.7" cy="441.1" rx="2.3" ry="1.9" transform="rotate(0 502.7 441.1)" stroke="#000" stroke-width="1.3" fill="#444"/>
<ellipse cx="508.2" cy="441.1" rx="2.3" ry="1.9" transform="rotate(0 508.2 441.1)" stroke="#000" stroke-width="1.3" fill="#444"/>
<ellipse cx="513.7" cy="441.1" rx="2.3" ry="1.9" transform="rotate(0 513.7 441.1)" stroke="#000" stroke-width="1.3" fill="#444"/>
<ellipse cx="519.2" cy="441.1" rx="2.3" ry="1.9" transform="rotate(0 519.2 441.1)" stroke="#000" stroke-width="1.3" fill="#444"/>
<ellipse cx="524.7" cy="441.1" rx="2.3" ry="1.9" transform="rotate(0 524.7 441.1)" stroke="#000" stroke-width="1.3" fill="#444"/>
<ellipse cx="530.2" cy="441.1" rx="2.3" ry="1.9" transform="rotate(0 530.2 441.1)" stroke="#000" stroke-width="1.3" fill="#444"/>
<ellipse cx="535.7" cy="441.1" rx="2.3" ry="1.9" transform="rotate(0 535.7 441.1)" stroke="#000" stroke-width="1.3" fill="#444"/>
<ellipse cx="541.2" cy="441.1" rx="2.3" ry="1.9" transform="rotate(0 541.2 441.1)" stroke="#000" stroke-width="1.3" fill="#444"/>
<ellipse cx="546.7" cy="441.1" rx="2.3" ry="1.9" transform="rotate(0 546.7 441.1)" stroke="#000" stroke-width="1.3" fill="#444"/>
<ellipse cx="552.2" cy="441.1" rx="2.3" ry="1.9" transform="rotate(0 552.2 441.1)" stroke="#000" stroke-width="1.3" fill="#444"/>
<ellipse cx="557.7" cy="441.1" rx="2.3" ry="1.9" transform="rotate(0 557.7 441.1)" stroke="#000" stroke-width="1.3" fill="#444"/>
<ellipse cx="563.2" cy="441.1" rx="2.3" ry="1.9" transform="rotate(0 563.2 441.1)" stroke="#000" stroke-width="1.3" fill="#444"/>
<ellipse cx="568.7" cy="441.1" rx="2.3" ry="1.9" transform="rotate(0 568.7 441.1)" stroke="#000" stroke-width="1.3" fill="#444"/>
<text x="420.2" y="456" font-family="Liberation Sans" font-size="6.81" font-weight="bold" textLength="19.4" lengthAdjust="spacingAndGlyphs" stroke="#000" stroke-width="0.2">POWER</text>
<text x="417.3" y="487" font-family="Liberation Sans" font-size="7.39" font-weight="bold" textLength="22.7" lengthAdjust="spacingAndGlyphs" stroke="#000" stroke-width="0.2">SERVICE</text>
<text x="512.7" y="456" font-family="Liberation Sans" font-size="7.25" font-weight="bold" textLength="45.1" lengthAdjust="spacingAndGlyphs" stroke="#000" stroke-width="0.2">COMMUNICATION</text>
<circle cx="449.5" cy="597.5" r="3.95" stroke="#000" stroke-width="1.2" fill="none"/>
<line x1="445.55" y1="597.5" x2="453.45" y2="597.5" stroke="#000" stroke-width="1" />
<line x1="449.5" y1="593.55" x2="449.5" y2="601.45" stroke="#000" stroke-width="1" />
<circle cx="449.5" cy="639.5" r="3.95" stroke="#000" stroke-width="1.2" fill="none"/>
<line x1="445.55" y1="639.5" x2="453.45" y2="639.5" stroke="#000" stroke-width="1" />
<line x1="449.5" y1="635.55" x2="449.5" y2="643.45" stroke="#000" stroke-width="1" />
<rect x="442.6" y="622.7" width="13.8" height="7.3" rx="3.65" fill="#fff" stroke="#000" stroke-width="1.1"/>
<circle cx="554.5" cy="597.5" r="3.95" stroke="#000" stroke-width="1.2" fill="none"/>
<line x1="550.55" y1="597.5" x2="558.45" y2="597.5" stroke="#000" stroke-width="1" />
<line x1="554.5" y1="593.55" x2="554.5" y2="601.45" stroke="#000" stroke-width="1" />
<circle cx="554.5" cy="626.5" r="3.95" stroke="#000" stroke-width="1.2" fill="none"/>
<line x1="550.55" y1="626.5" x2="558.45" y2="626.5" stroke="#000" stroke-width="1" />
<line x1="554.5" y1="622.55" x2="554.5" y2="630.45" stroke="#000" stroke-width="1" />
<circle cx="554.5" cy="639.5" r="3.95" stroke="#000" stroke-width="1.2" fill="none"/>
<line x1="550.55" y1="639.5" x2="558.45" y2="639.5" stroke="#000" stroke-width="1" />
<line x1="554.5" y1="635.55" x2="554.5" y2="643.45" stroke="#000" stroke-width="1" />
<circle cx="511.5" cy="626.5" r="13.4" stroke="#000" stroke-width="1.1" fill="none"/>
<circle cx="511.5" cy="626.5" r="8.8" stroke="#000" stroke-width="1.1" fill="none"/>
<circle cx="511.5" cy="626.5" r="6.4" stroke="#000" stroke-width="1.1" fill="none"/>
<line x1="359" y1="597.5" x2="443.8" y2="597.5" stroke="#000" stroke-width="1" />
<line x1="359" y1="626.5" x2="515.7" y2="626.5" stroke="#000" stroke-width="1" />
<line x1="359" y1="639.5" x2="443.6" y2="639.5" stroke="#000" stroke-width="1" />
<line x1="359" y1="674.5" x2="399.5" y2="674.5" stroke="#000" stroke-width="1" />
<line x1="449.5" y1="603.2" x2="449.5" y2="684.5" stroke="#000" stroke-width="1" />
<line x1="511.5" y1="622" x2="511.5" y2="684.5" stroke="#000" stroke-width="1" />
<line x1="554.5" y1="603" x2="554.5" y2="684.5" stroke="#000" stroke-width="1" />
<text x="321" y="601.2" font-family="Liberation Sans" font-size="11.59" font-weight="bold" textLength="10" lengthAdjust="spacingAndGlyphs" stroke="#000" stroke-width="0.2">2X</text>
<text x="336.7" y="601.2" font-family="Liberation Sans" font-size="11.59" font-weight="bold" textLength="15.1" lengthAdjust="spacingAndGlyphs" stroke="#000" stroke-width="0.2">15.0</text>
<text x="336" y="630.6" font-family="Liberation Sans" font-size="12.03" font-weight="bold" textLength="9.8" lengthAdjust="spacingAndGlyphs" stroke="#000" stroke-width="0.2">3X</text>
<text x="351.8" y="630.6" font-family="Liberation Sans" font-size="12.03" font-weight="bold" textLength="4.6" lengthAdjust="spacingAndGlyphs" stroke="#000" stroke-width="0.2">0</text>
<text x="326.7" y="643.5" font-family="Liberation Sans" font-size="12.03" font-weight="bold" textLength="10" lengthAdjust="spacingAndGlyphs" stroke="#000" stroke-width="0.2">2X</text>
<text x="342.2" y="643.5" font-family="Liberation Sans" font-size="12.03" font-weight="bold" textLength="12" lengthAdjust="spacingAndGlyphs" stroke="#000" stroke-width="0.2">7.0</text>
<text x="336.7" y="679" font-family="Liberation Sans" font-size="12.03" font-weight="bold" textLength="15.8" lengthAdjust="spacingAndGlyphs" stroke="#000" stroke-width="0.2">24.8</text>
<text transform="translate(453.7,722) rotate(-90)" x="0" y="0" font-family="Liberation Sans" font-size="12.17" font-weight="bold" textLength="31" lengthAdjust="spacingAndGlyphs">3X&#160;&#160;32.0</text>
<text transform="translate(558.9,722) rotate(-90)" x="0" y="0" font-family="Liberation Sans" font-size="12.17" font-weight="bold" textLength="31" lengthAdjust="spacingAndGlyphs">3X&#160;&#160;22.0</text>
<text transform="translate(514.95,691.5) rotate(-90)" x="0" y="0" font-family="Liberation Sans" font-size="10.87" font-weight="bold" textLength="4.8" lengthAdjust="spacingAndGlyphs">0</text>
<polyline points="519,620 611.4,533 615,533" stroke="#000" stroke-width="1" fill="none" />
<text x="615" y="537.3" font-family="Liberation Sans" font-size="12.03" font-weight="bold" textLength="8.5" lengthAdjust="spacingAndGlyphs" stroke="#000" stroke-width="0.2">Ø</text>
<text x="627" y="537.3" font-family="Liberation Sans" font-size="12.03" font-weight="bold" textLength="5" lengthAdjust="spacingAndGlyphs" stroke="#000" stroke-width="0.2">7</text>
<text x="636.5" y="537.3" font-family="Liberation Sans" font-size="12.03" font-weight="bold" textLength="32.5" lengthAdjust="spacingAndGlyphs" stroke="#000" stroke-width="0.2">BEAM IN</text>
<polyline points="559,594 614,563.5 617.5,563.5" stroke="#000" stroke-width="1" fill="none" />
<polygon points="558.5,594.3 561.85,591.07 563.02,593.17" stroke="#000" stroke-width="0.5" fill="#000" />
<text x="617.7" y="568.2" font-family="Liberation Sans" font-size="11.45" font-weight="bold" textLength="21.3" lengthAdjust="spacingAndGlyphs" stroke="#000" stroke-width="0.2">4X M5</text>
<text x="641" y="568.2" font-family="Liberation Sans" font-size="8.26" font-weight="bold" textLength="4.5" lengthAdjust="spacingAndGlyphs" stroke="#000" stroke-width="0.2">x</text>
<text x="647" y="568.2" font-family="Liberation Sans" font-size="11.45" font-weight="bold" textLength="9.3" lengthAdjust="spacingAndGlyphs" stroke="#000" stroke-width="0.2">0.8</text>
<path d="M679.7,561 H689 M684.3,561 V568 M681.5,564.5 L684.3,568 L687,564.5" stroke="#000" stroke-width="1.1" fill="none" />
<text x="689.5" y="568.2" font-family="Liberation Sans" font-size="11.45" font-weight="bold" textLength="9.5" lengthAdjust="spacingAndGlyphs" stroke="#000" stroke-width="0.2">10</text>
<polyline points="559,622.5 615,597 619.5,597" stroke="#000" stroke-width="1" fill="none" />
<polygon points="558.5,622.7 562.1,619.74 563.09,621.93" stroke="#000" stroke-width="0.5" fill="#000" />
<text x="617.7" y="594.6" font-family="Liberation Sans" font-size="11.74" font-weight="bold" textLength="9.3" lengthAdjust="spacingAndGlyphs" stroke="#000" stroke-width="0.2">2X</text>
<text x="633.5" y="594.6" font-family="Liberation Sans" font-size="11.74" font-weight="bold" textLength="7" lengthAdjust="spacingAndGlyphs" stroke="#000" stroke-width="0.2">Ø</text>
<text x="646.5" y="594.6" font-family="Liberation Sans" font-size="10.29" font-weight="bold" textLength="15" lengthAdjust="spacingAndGlyphs" stroke="#000" stroke-width="0.2">4.03</text>
<path d="M669,587 H677.5 M673.2,587 V594.6 M670.7,590.5 L673.2,594.6 L675.7,590.5" stroke="#000" stroke-width="1.1" fill="none" />
<text x="679.5" y="594.6" font-family="Liberation Sans" font-size="11.01" font-weight="bold" textLength="4.5" lengthAdjust="spacingAndGlyphs" stroke="#000" stroke-width="0.2">6</text>
<text x="618" y="607.7" font-family="Liberation Sans" font-size="12.17" font-weight="bold" textLength="49.7" lengthAdjust="spacingAndGlyphs" stroke="#000" stroke-width="0.2">HOLE &amp; SLOT</text>
<text x="80.7" y="560.2" font-family="Liberation Sans" font-size="24.2" stroke="#000" stroke-width="1.0" textLength="69.8" lengthAdjust="spacingAndGlyphs">LXP-07</text>
<text x="75.6" y="585.8" font-family="Liberation Sans" font-size="24.8" stroke="#000" stroke-width="1.0" textLength="78.4" lengthAdjust="spacingAndGlyphs">Scanner</text>
</svg></body></html>
